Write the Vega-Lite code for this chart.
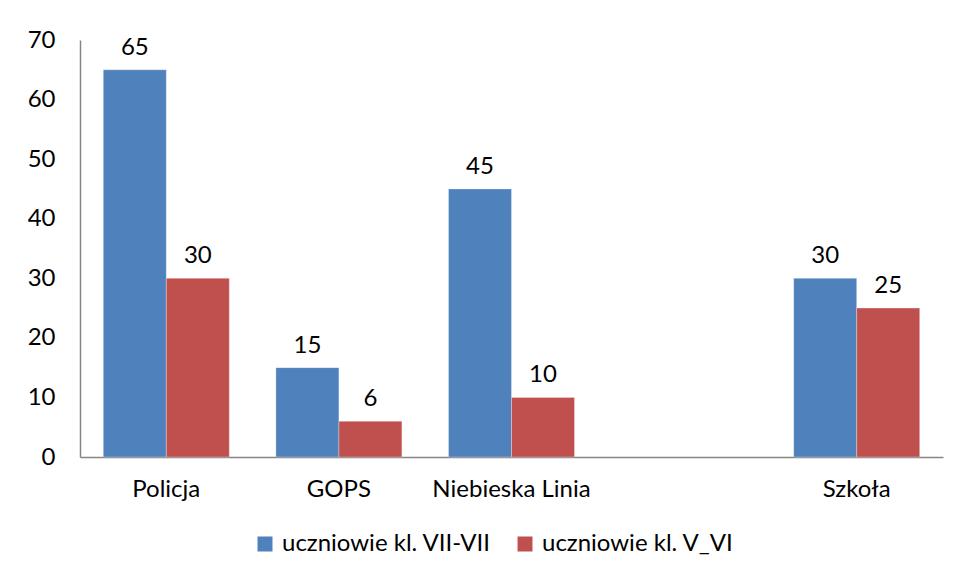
{
  "$schema": "https://vega.github.io/schema/vega-lite/v6.json",
  "width": 863,
  "height": 417,
  "autosize": {"type": "none"},
  "padding": {"left": 80, "top": 40, "right": 17, "bottom": 121},
  "background": "white",
  "config": {
    "font": "Lato",
    "view": {"stroke": null},
    "axis": {"labelFont": "Lato", "labelFontSize": 24, "labelColor": "#000000", "domainColor": "#868686", "domainWidth": 1.5, "ticks": false, "grid": false, "title": null}
  },
  "data": {
    "values": [
      {"kategoria": "Policja", "grupa": "uczniowie kl. VII-VII", "wartosc": 65},
      {"kategoria": "Policja", "grupa": "uczniowie kl. V_VI", "wartosc": 30},
      {"kategoria": "GOPS", "grupa": "uczniowie kl. VII-VII", "wartosc": 15},
      {"kategoria": "GOPS", "grupa": "uczniowie kl. V_VI", "wartosc": 6},
      {"kategoria": "Niebieska Linia", "grupa": "uczniowie kl. VII-VII", "wartosc": 45},
      {"kategoria": "Niebieska Linia", "grupa": "uczniowie kl. V_VI", "wartosc": 10},
      {"kategoria": "Szkoła", "grupa": "uczniowie kl. VII-VII", "wartosc": 30},
      {"kategoria": "Szkoła", "grupa": "uczniowie kl. V_VI", "wartosc": 25}
    ]
  },
  "encoding": {
    "x": {
      "field": "kategoria", "type": "nominal",
      "scale": {"domain": ["Policja", "GOPS", "Niebieska Linia", " ", "Szkoła"], "paddingInner": 0.27, "paddingOuter": 0.135},
      "axis": {"labelAngle": 0, "labelPadding": 20, "labelLimit": 0}
    },
    "xOffset": {"field": "grupa", "type": "nominal", "scale": {"domain": ["uczniowie kl. VII-VII", "uczniowie kl. V_VI"]}},
    "y": {
      "field": "wartosc", "type": "quantitative",
      "scale": {"domain": [0, 70], "nice": false},
      "axis": {"values": [0, 10, 20, 30, 40, 50, 60, 70], "labelPadding": 25}
    }
  },
  "layer": [
    {
      "mark": {"type": "bar", "stroke": "#ffffff", "strokeWidth": 0.5, "strokeOpacity": 0.6},
      "encoding": {
        "color": {
          "field": "grupa", "type": "nominal",
          "scale": {"domain": ["uczniowie kl. VII-VII", "uczniowie kl. V_VI"], "range": ["#4F81BD", "#C0504D"]},
          "legend": {
            "title": null, "orient": "none", "direction": "horizontal", "columns": 2,
            "legendX": 173, "legendY": 492,
            "symbolType": "square", "symbolSize": 225, "symbolStrokeWidth": 0,
            "labelFontSize": 24, "labelFont": "Lato", "labelColor": "#000000", "labelLimit": 0,
            "labelOffset": 5, "columnPadding": 22
          }
        }
      }
    },
    {
      "mark": {"type": "text", "baseline": "bottom", "dy": -10, "fontSize": 24, "font": "Lato", "color": "#000000"},
      "encoding": {"text": {"field": "wartosc", "type": "quantitative"}}
    }
  ]
}
